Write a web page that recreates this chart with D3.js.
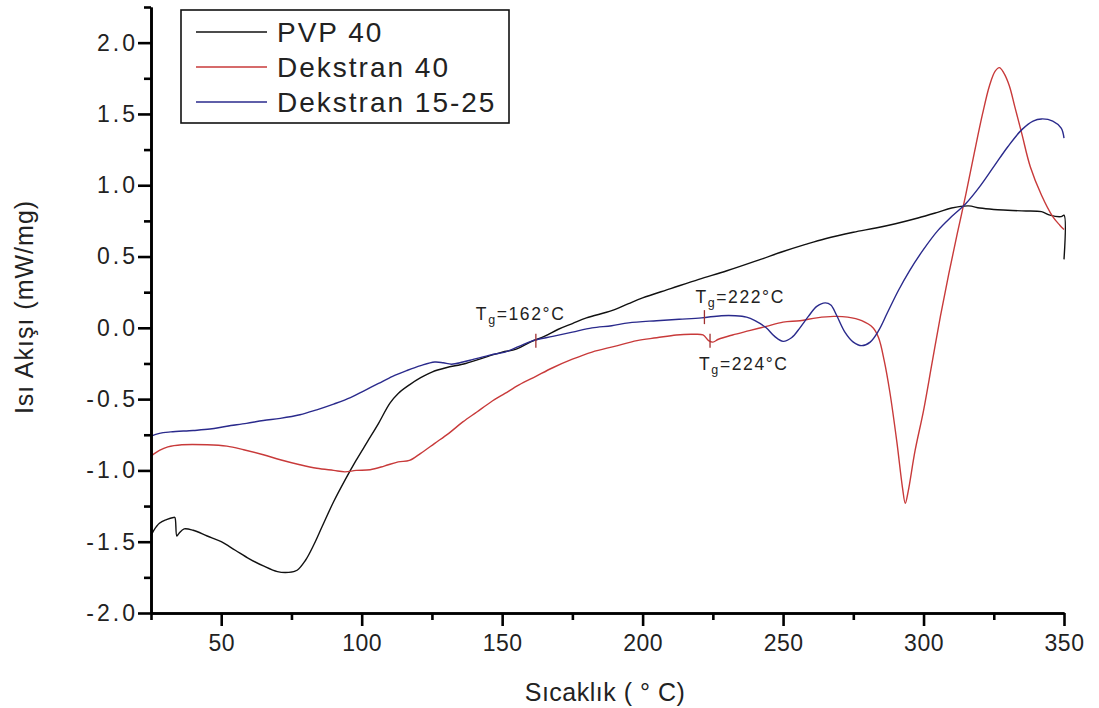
<!DOCTYPE html>
<html><head><meta charset="utf-8">
<script src="https://cdn.jsdelivr.net/npm/d3@7"></script>
<style>
body{margin:0;background:#fff}
svg{display:block}
text{font-family:"Liberation Sans",Arial,sans-serif;fill:#222}
</style>
</head><body>
<svg id="chart" width="1099" height="708"></svg>
<script>
// ---- data ----
const seriesNames = ["PVP 40", "Dekstran 40", "Dekstran 15-25"];
const seriesColors = ["#111111", "#c83a3a", "#2a2a8c"];

const pvpX = [25,26,28,30.5,33,33.5,34.2,35,36.8,40,45,50,55,60,65,70,74,77,80,83,86,90,94,98,102,106,110,113,117,121,125,130,137,145,150,155,160,165,170,175,180,189,195,200,210,220,230,242,250,258,265,275,283,290,298,305,310,316,320,325,330,335,342,345,349,350,350];
const pvpY = [-1.46,-1.42,-1.37,-1.345,-1.33,-1.33,-1.46,-1.44,-1.41,-1.42,-1.46,-1.50,-1.56,-1.62,-1.67,-1.71,-1.715,-1.70,-1.63,-1.52,-1.39,-1.22,-1.07,-0.93,-0.80,-0.67,-0.53,-0.46,-0.40,-0.35,-0.31,-0.28,-0.25,-0.20,-0.17,-0.15,-0.10,-0.06,-0.01,0.03,0.07,0.12,0.17,0.21,0.275,0.34,0.40,0.48,0.535,0.585,0.625,0.67,0.70,0.73,0.77,0.81,0.84,0.855,0.84,0.83,0.825,0.82,0.815,0.79,0.78,0.79,0.48];

const dex40X = [25,28,31,36,45,52,58,65,71,78,84,90,94,98,103,108,113,117,121,126,131,136,141,146,151,156,162,168,175,182,190,198,205,212,218,221.5,223.5,225,227,232,238,244,250,256,262,268,273,278,282,284,286,288,290.5,292.5,293.5,294.5,297,300,303,306,309,312,315,318,321,323.5,325.5,327,328.5,330.5,332.5,335,338,342,346,348.5,350];
const dex40Y = [-0.90,-0.86,-0.835,-0.82,-0.82,-0.83,-0.855,-0.89,-0.925,-0.96,-0.985,-1.0,-1.01,-1.0,-0.995,-0.97,-0.94,-0.93,-0.88,-0.81,-0.74,-0.66,-0.59,-0.52,-0.46,-0.40,-0.34,-0.28,-0.22,-0.17,-0.13,-0.09,-0.07,-0.05,-0.045,-0.05,-0.09,-0.10,-0.08,-0.05,-0.02,0.01,0.04,0.05,0.07,0.08,0.075,0.05,0.0,-0.07,-0.23,-0.45,-0.80,-1.12,-1.23,-1.15,-0.86,-0.58,-0.25,0.08,0.38,0.66,0.93,1.22,1.50,1.70,1.80,1.825,1.79,1.70,1.55,1.36,1.13,0.93,0.78,0.72,0.69];

const dex1525X = [25,28,32,40,46,52,59,65,71,78,84,90,96,101,106,111,116,121,126,129,132,136,140,146,151,156,161,168,175,182,189,195,205,213,221,228,233,237,240,244,247,250,253,256,259,262,265,267,269,272,275,278,281,284,287,291,295,300,305,310,315,320,325,330,335,339,342,346,349,350];
const dex1525Y = [-0.76,-0.74,-0.73,-0.72,-0.71,-0.69,-0.67,-0.65,-0.635,-0.61,-0.575,-0.535,-0.49,-0.44,-0.39,-0.34,-0.30,-0.265,-0.24,-0.245,-0.255,-0.24,-0.22,-0.19,-0.17,-0.13,-0.09,-0.06,-0.03,0.0,0.015,0.035,0.05,0.06,0.07,0.085,0.085,0.075,0.05,0.0,-0.06,-0.095,-0.07,0.0,0.08,0.15,0.175,0.16,0.09,-0.03,-0.10,-0.125,-0.10,-0.02,0.10,0.26,0.40,0.55,0.68,0.78,0.87,0.99,1.13,1.27,1.39,1.45,1.465,1.45,1.40,1.33];

const xMajorTicks = [50,100,150,200,250,300,350];
const xTickLabels = ["50","100","150","200","250","300","350"];
const xMinorTicks = [25,75,125,175,225,275,325];
const yMajorTicks = [-2.0,-1.5,-1.0,-0.5,0.0,0.5,1.0,1.5,2.0];
const yTickLabels = ["-2.0","-1.5","-1.0","-0.5","0.0","0.5","1.0","1.5","2.0"];
const yMinorTicks = [-1.75,-1.25,-0.75,-0.25,0.25,0.75,1.25,1.75,2.25];

const tgTemps = [162, 222, 224];
const tgCurveY = [-0.09, 0.075, -0.09];
const tgValues = ["162", "222", "224"];

const xTitle = "Sıcaklık ( ° C)";
const yTitle = "Isı Akışı (mW/mg)";

// ---- drawing ----
const svg = d3.select("#chart");
const x = d3.scaleLinear().domain([25, 350]).range([151, 1064]);
const y = d3.scaleLinear().domain([-2, 2.25]).range([613, 7]);

const line = d3.line().x(d => x(d[0])).y(d => y(d[1])).curve(d3.curveCatmullRom.alpha(0.5));
const series = [
  {name: seriesNames[0], color: seriesColors[0], pts: d3.zip(pvpX, pvpY)},
  {name: seriesNames[1], color: seriesColors[1], pts: d3.zip(dex40X, dex40Y)},
  {name: seriesNames[2], color: seriesColors[2], pts: d3.zip(dex1525X, dex1525Y)}
];

// curves
svg.append("g").selectAll("path").data(series).join("path")
  .attr("d", d => line(d.pts))
  .attr("fill", "none")
  .attr("stroke", d => d.color)
  .attr("stroke-width", 1.4)
  .attr("stroke-linejoin", "round");

// axes
function styleAxis(g) {
  g.select(".domain").attr("stroke", "#000").attr("stroke-width", 2.6);
  g.selectAll(".tick line").attr("stroke", "#000").attr("stroke-width", 2.6);
}
const gxMinor = svg.append("g").attr("transform", "translate(0,613)")
  .call(d3.axisBottom(x).tickValues(xMinorTicks).tickSize(7).tickSizeOuter(0).tickFormat(""));
styleAxis(gxMinor);
const gx = svg.append("g").attr("transform", "translate(0,613)")
  .call(d3.axisBottom(x).tickValues(xMajorTicks).tickSize(13).tickSizeOuter(0).tickPadding(9)
    .tickFormat((d, i) => xTickLabels[i]));
styleAxis(gx);
gx.selectAll("text").attr("font-size", 23).attr("fill", "#222").attr("letter-spacing", 0.5)
  .attr("font-family", "Liberation Sans, Arial, sans-serif");

const gyMinor = svg.append("g").attr("transform", "translate(151,0)")
  .call(d3.axisLeft(y).tickValues(yMinorTicks).tickSize(7).tickSizeOuter(0).tickFormat(""));
styleAxis(gyMinor);
const gy = svg.append("g").attr("transform", "translate(151,0)")
  .call(d3.axisLeft(y).tickValues(yMajorTicks).tickSize(13).tickSizeOuter(0).tickPadding(0)
    .tickFormat((d, i) => yTickLabels[i]));
styleAxis(gy);
gy.selectAll("text").attr("font-size", 23).attr("fill", "#222").attr("letter-spacing", 3)
  .attr("font-family", "Liberation Sans, Arial, sans-serif");

// axis titles
svg.append("text").attr("x", 605).attr("y", 701).attr("text-anchor", "middle")
  .attr("font-size", 25).attr("letter-spacing", 0.5).text(xTitle);
svg.append("text").attr("transform", "translate(33,307) rotate(-90)").attr("text-anchor", "middle")
  .attr("font-size", 25).attr("letter-spacing", 1).text(yTitle);

// Tg markers and labels
const tgDx = [-60, -9, -11], tgDy = [-21, -14, 29];
tgTemps.forEach((t, i) => {
  const px = x(t), py = y(tgCurveY[i]);
  svg.append("line").attr("x1", px).attr("x2", px).attr("y1", py - 7).attr("y2", py + 7)
    .attr("stroke", "#a03030").attr("stroke-width", 1.3);
  const tx = svg.append("text").attr("x", px + tgDx[i]).attr("y", py + tgDy[i])
    .attr("font-size", 17.5).attr("letter-spacing", 1.6);
  tx.append("tspan").text("T");
  tx.append("tspan").attr("font-size", 12.5).attr("dy", 4).text("g");
  tx.append("tspan").attr("dy", -4).text("=" + tgValues[i] + "°C");
});

// legend
const lg = svg.append("g");
lg.append("rect").attr("x", 181).attr("y", 10).attr("width", 328).attr("height", 113)
  .attr("fill", "#fff").attr("stroke", "#111").attr("stroke-width", 1.6);
series.forEach((s, i) => {
  const ly = 32 + i * 35;
  lg.append("line").attr("x1", 196).attr("x2", 267).attr("y1", ly).attr("y2", ly)
    .attr("stroke", s.color).attr("stroke-width", 1.5);
  lg.append("text").attr("x", 277).attr("y", ly + 10).attr("font-size", 28)
    .attr("letter-spacing", 2).text(s.name);
});
</script>
</body></html>
